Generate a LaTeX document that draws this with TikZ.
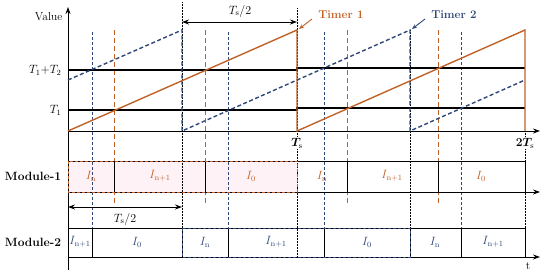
\documentclass[tikz,border=0pt]{standalone}
\usepackage{bm}
\usetikzlibrary{arrows.meta}
\definecolor{torange}{RGB}{192,98,40}
\definecolor{tblue}{RGB}{47,72,120}
\definecolor{tpink}{RGB}{254,242,247}
\begin{document}
\begin{tikzpicture}[x=1pt,y=-1pt,
  axis/.style={line width=0.9pt,-{Stealth[length=7pt,width=5pt]}},
  lvl/.style={line width=1.3pt},
  dotv/.style={densely dotted,line width=0.5pt},
  bdash/.style={dashed,tblue,line width=0.7pt,dash pattern=on 3pt off 2pt},
  odash/.style={dashed,torange,line width=0.8pt,dash pattern=on 5pt off 3pt},
  lbl/.style={font=\fontsize{11.5}{13}\selectfont},
  mlbl/.style={font=\bfseries\fontsize{12}{14}\selectfont},
  olbl/.style={torange,font=\fontsize{11.5}{13}\selectfont},
  blbl/.style={tblue,font=\fontsize{11.5}{13}\selectfont},
  dimarr/.style={line width=0.9pt,{Stealth[length=7pt,width=5pt]}-{Stealth[length=7pt,width=5pt]}}]
\useasboundingbox (0,0) rectangle (550,274);
% module fills
\fill[tpink] (68,161) rectangle (297,192);
% vertical guide lines
\foreach \x/\t in {182/2,297/8,410/30,525/131}{\draw[dotv] (\x,\t) -- (\x,257);}
\foreach \x in {92,228,324,461}{\draw[bdash] (\x,32) -- (\x,257);}
\foreach \x in {114,205,347,438}{\draw[odash] (\x,30) -- (\x,203);}
% axes
\draw[axis] (68,270) -- (68,7);
\draw[axis] (68,131) -- (540,131);
\draw[axis] (68,192) -- (540,192);
\draw[axis] (68,257) -- (540,257);
% levels
\draw[lvl] (68,70) -- (297,70) -- (297,68) -- (525,68);
\draw[lvl] (68,110) -- (297,110) -- (297,108) -- (525,108);
% timers
\draw[torange,line width=1.4pt] (68,131) -- (297,30) -- (297,131) -- (525,30) -- (525,131);
\draw[tblue,line width=1.4pt,dash pattern=on 4pt off 2.5pt] (68,80) -- (182,30) -- (182,131) -- (410,30) -- (410,131) -- (525,80);
% module 1
\draw[line width=1pt] (68,161) rectangle (525,192);
\foreach \x in {114,205,347,438}{\draw[line width=1pt] (\x,161) -- (\x,192);}
\draw[torange,line width=1pt,dash pattern=on 3pt off 2pt] (68,161) rectangle (297,192);
% module 2
\draw[line width=1pt] (68,228) rectangle (525,257);
\foreach \x in {92,182,228,324,410,461}{\draw[line width=1pt] (\x,228) -- (\x,257);}
\draw[tblue,line width=1pt,dash pattern=on 3pt off 2pt] (182,228) rectangle (410,257);
% labels
\node[lbl,anchor=east] (val) at (66,17) {Value};
\node[lbl,anchor=east] (t12) at (65,70) {$T_1{+}T_2$};
\node[lbl,anchor=east] (t1) at (65,110) {$T_1$};
\node[lbl,fill=white,inner sep=1pt] (ts) at (297,143) {$\bm{T}_{\mathrm{s}}$};
\node[lbl,fill=white,inner sep=1pt] (tts) at (525,143) {$\mathbf{2}\bm{T}_{\mathrm{s}}$};
\node[lbl] (tt) at (528,266) {t};
\node[mlbl] (m1) at (33,176) {Module-1};
\node[mlbl] (m2) at (33,242) {Module-2};
% Ts/2 arrows
\coordinate (a1) at (182,22); \coordinate (a2) at (297,22);
\draw[dimarr] (a1) -- (a2);
\node[lbl] (h1) at (240,11) {$T_{\mathrm{s}}/2$};
\coordinate (b1) at (68,207); \coordinate (b2) at (182,207);
\draw[dimarr] (b1) -- (b2);
\node[lbl] (h2) at (125,219) {$T_{\mathrm{s}}/2$};
% timer labels
\node[olbl,font=\bfseries\fontsize{11.5}{13}\selectfont] (tm1) at (341,15) {Timer 1};
\node[blbl,font=\bfseries\fontsize{11.5}{13}\selectfont] (tm2) at (454,15) {Timer 2};
\coordinate (p1) at (299,29); \coordinate (p2) at (412,29);
\draw[torange,line width=0.9pt,-{Stealth[length=5pt,width=4pt]}] (312,19) -- (p1);
\draw[tblue,line width=0.9pt,-{Stealth[length=5pt,width=4pt]}] (425,19) -- (p2);
% module-1 texts
\node[olbl] (m1a) at (91,176) {$I_{\mathrm{n}}$};
\node[olbl] (m1b) at (160,176) {$I_{\mathrm{n+1}}$};
\node[olbl] (m1c) at (251,176) {$I_{0}$};
\node[olbl] (m1d) at (322,176) {$I_{\mathrm{n}}$};
\node[olbl] (m1e) at (392,176) {$I_{\mathrm{n+1}}$};
\node[olbl] (m1f) at (481,176) {$I_{0}$};
% module-2 texts
\node[blbl] (m2a) at (80,242) {$I_{\mathrm{n+1}}$};
\node[blbl] (m2b) at (137,242) {$I_{0}$};
\node[blbl] (m2c) at (205,242) {$I_{\mathrm{n}}$};
\node[blbl] (m2d) at (276,242) {$I_{\mathrm{n+1}}$};
\node[blbl] (m2e) at (367,242) {$I_{0}$};
\node[blbl] (m2f) at (435,242) {$I_{\mathrm{n}}$};
\node[blbl] (m2g) at (493,242) {$I_{\mathrm{n+1}}$};
\end{tikzpicture}
\end{document}
